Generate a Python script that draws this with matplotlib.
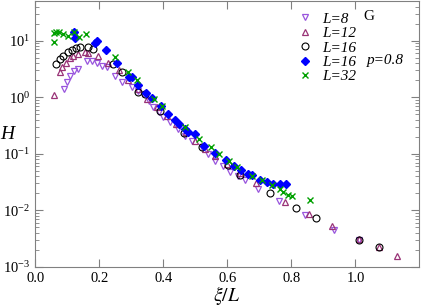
import matplotlib
matplotlib.use("Agg")
import matplotlib.pyplot as plt
from matplotlib.ticker import LogLocator, FixedLocator, NullFormatter

plt.rcParams['font.family'] = ['Liberation Serif', 'DejaVu Serif']
plt.rcParams['mathtext.fontset'] = 'stix'

# L=8 (down triangles)
x_L8 = [0.091, 0.098, 0.108, 0.122, 0.132, 0.160, 0.176, 0.192, 0.207, 0.223, 0.249, 0.270,
        0.301, 0.320, 0.338, 0.355, 0.369, 0.385, 0.400, 0.421, 0.445, 0.467, 0.489, 0.520,
        0.540, 0.562, 0.585, 0.608, 0.632, 0.655, 0.697, 0.760, 0.843, 0.934, 1.010]
y_L8 = [1.4, 1.84, 2.4, 2.95, 3.17, 4.3, 4.4, 4.1, 3.6, 3.4, 2.4, 1.9,
        1.5, 1.3, 1.15, 0.85, 0.67, 0.55, 0.44, 0.36, 0.27, 0.21, 0.17, 0.13,
        0.10, 0.076, 0.06, 0.048, 0.04, 0.034, 0.024, 0.0147, 0.0082, 0.0045, 0.003]

# L=12 (up triangles)
x_L12 = [0.059, 0.077, 0.084, 0.095, 0.108, 0.119, 0.134, 0.155, 0.166, 0.197, 0.228, 0.260,
         0.290, 0.320, 0.350, 0.380, 0.410, 0.440, 0.470, 0.500, 0.530, 0.560, 0.600, 0.640,
         0.690, 0.780, 0.856, 0.926, 1.010, 1.074, 1.129]
y_L12 = [1.1, 2.76, 3.4, 4.1, 5.0, 5.4, 5.8, 6.2, 6.0, 5.4, 4.1, 3.0,
         2.0, 1.4, 0.95, 0.68, 0.46, 0.33, 0.24, 0.17, 0.12, 0.09, 0.065, 0.045,
         0.03, 0.014, 0.0085, 0.0052, 0.0031, 0.0022, 0.00155]

# L=16 (open circles)
x_L16 = [0.064, 0.077, 0.0875, 0.101, 0.114, 0.126, 0.140, 0.166, 0.181, 0.244, 0.270, 0.322,
         0.343, 0.390, 0.463, 0.520, 0.603, 0.640, 0.733, 0.815, 0.877, 1.012, 1.074]
y_L16 = [3.9, 4.75, 5.4, 6.2, 6.9, 7.3, 7.6, 7.8, 7.1, 3.9, 2.76, 1.22,
         1.15, 0.58, 0.23, 0.13, 0.063, 0.043, 0.02, 0.0112, 0.0072, 0.003, 0.0022]

# L=16, p=0.8 (filled diamonds)
x_L16p = [0.121, 0.124, 0.187, 0.194, 0.221, 0.254, 0.294, 0.301, 0.322, 0.346, 0.364, 0.394,
          0.416, 0.437, 0.450, 0.468, 0.478, 0.499, 0.528, 0.562, 0.596, 0.620, 0.642, 0.663,
          0.676, 0.702, 0.723, 0.744, 0.765, 0.783]
y_L16p = [14, 11.4, 9.3, 10, 6.9, 4.1, 2.3, 2.25, 1.67, 1.18, 0.97, 0.7,
          0.5, 0.39, 0.33, 0.28, 0.24, 0.226, 0.14, 0.103, 0.0766, 0.062, 0.051, 0.044,
          0.0416, 0.035, 0.0317, 0.0297, 0.0289, 0.0289]

# L=32 (crosses)
x_L32 = [0.058, 0.058, 0.065, 0.075, 0.088, 0.101, 0.120, 0.138, 0.158, 0.249, 0.290, 0.319,
         0.371, 0.397, 0.468, 0.512, 0.549, 0.574, 0.605, 0.631, 0.676, 0.707, 0.739, 0.764,
         0.773, 0.788, 0.801, 0.858]
y_L32 = [13.7, 9.5, 14.5, 14, 13, 12.3, 14, 11.5, 13.1, 5.1, 2.76, 2.03,
         0.93, 0.69, 0.30, 0.18, 0.13, 0.098, 0.074, 0.058, 0.041, 0.035, 0.0277, 0.024,
         0.021, 0.019, 0.018, 0.0155]

x_ticks = [0.0, 0.2, 0.4, 0.6, 0.8, 1.0]

fig = plt.figure(figsize=(4.21, 3.06), dpi=100)
ax = fig.add_axes([0.0838, 0.128, 0.9126, 0.868])

h1, = ax.plot(x_L8, y_L8, 'v', ms=5, mfc='none', mec='#9955dd', mew=0.9, ls='none', label='L=8')
h2, = ax.plot(x_L12, y_L12, '^', ms=5, mfc='none', mec='#993377', mew=0.9, ls='none', label='L=12')
h3, = ax.plot(x_L16, y_L16, 'o', ms=5, mfc='none', mec='black', mew=0.8, ls='none', label='L=16')
h4, = ax.plot(x_L16p, y_L16p, 'D', ms=4.5, mfc='#0000ff', mec='#0000ff', ls='none', label='L=16')
h5, = ax.plot(x_L32, y_L32, 'x', ms=4.5, mec='#00a000', mew=1.0, ls='none', label='L=32')

ax.set_yscale('log')
ax.set_xlim(0, 1.2)
ax.set_ylim(1e-3, 50)
ax.xaxis.set_major_locator(FixedLocator(x_ticks))
ax.set_xticklabels(['%.1f' % t for t in x_ticks])
ax.yaxis.set_major_locator(LogLocator(base=10, numticks=10))
ax.yaxis.set_minor_locator(LogLocator(base=10, subs=range(2, 10), numticks=20))
ax.yaxis.set_minor_formatter(NullFormatter())
ax.tick_params(which='both', direction='in', top=True, right=True, color='#808080', labelsize=10.5)
ax.tick_params(which='major', length=6)
ax.tick_params(which='minor', length=3)
for s in ax.spines.values():
    s.set_color('#808080')

fig.text(0.539, 0.035, r'$\xi/L$', fontsize=14, ha='center', va='center')
fig.text(0.017, 0.559, 'H', fontsize=14, style='italic', ha='center', va='center')

leg = ax.legend(handles=[h1, h2, h3, h4, h5], loc='upper left', bbox_to_anchor=(0.655, 1.0),
                frameon=False, prop={'style': 'italic', 'size': 11}, handlelength=1,
                handletextpad=0.6, labelspacing=0.05, borderaxespad=0.3)
ax.text(0.853, 0.93, 'G', transform=ax.transAxes, fontsize=11)
ax.text(0.862, 0.762, 'p=0.8', transform=ax.transAxes, fontsize=11, style='italic')

fig.savefig('out.png', dpi=100)
